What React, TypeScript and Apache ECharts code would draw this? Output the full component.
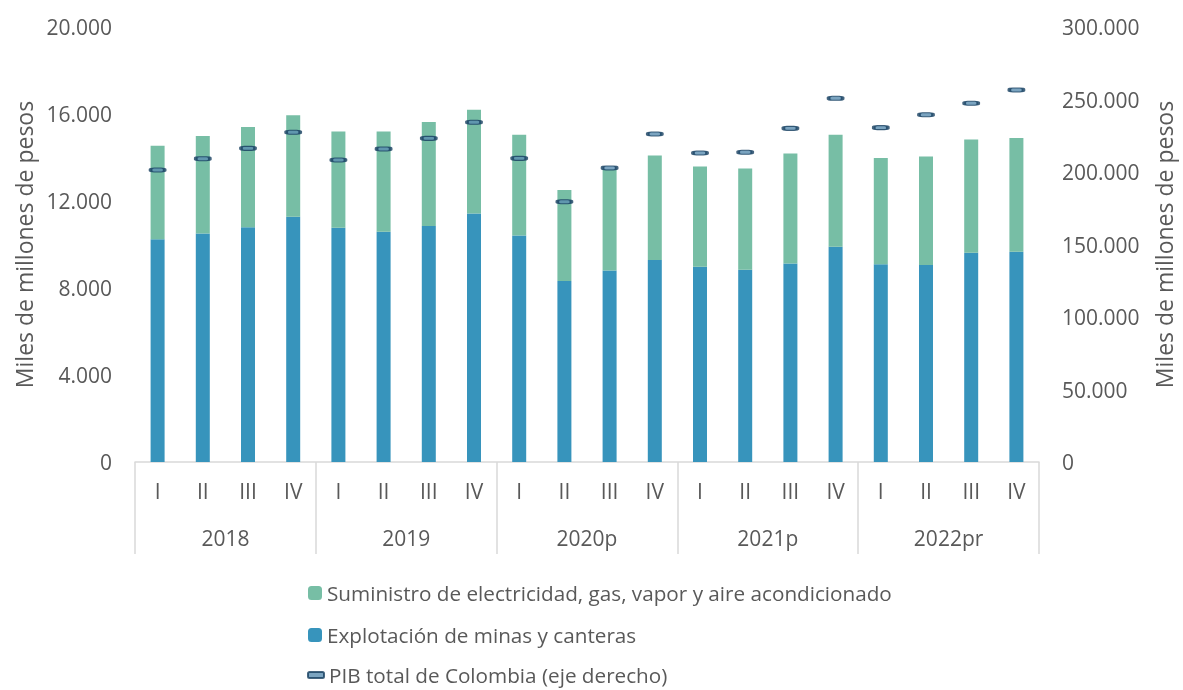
import React, { useEffect, useRef } from "react";
import * as echarts from "echarts";

const quarters = ["I","II","III","IV","I","II","III","IV","I","II","III","IV","I","II","III","IV","I","II","III","IV"];
const years = ["2018", "2019", "2020p", "2021p", "2022pr"];
const mineria = [10240, 10510, 10790, 11280, 10770, 10590, 10850, 11420, 10410, 8320, 8800, 9290, 8980, 8840, 9130, 9900, 9090, 9060, 9620, 9670];
const electricidad = [4300, 4480, 4610, 4660, 4430, 4600, 4780, 4780, 4640, 4190, 4660, 4800, 4610, 4660, 5050, 5150, 4890, 4990, 5210, 5230];
const pib = [201400, 209200, 216300, 227400, 208300, 215900, 223200, 234300, 209400, 179500, 202800, 226200, 213100, 213600, 230100, 250800, 230600, 239500, 247400, 256600];

const nameElec = "Suministro de electricidad, gas, vapor y aire acondicionado";
const nameMin = "Explotación de minas y canteras";
const namePib = "PIB total de Colombia (eje derecho)";

const fmt = (v: number) => String(v).replace(/\B(?=(\d{3})+(?!\d))/g, ".");
const FONT = "'Open Sans', sans-serif";
const GRAY = "#595959";
const LINE = "#d9d9d9";

export default function App() {
  const ref = useRef<HTMLDivElement>(null);
  useEffect(() => {
    if (!ref.current) return;
    const chart = echarts.init(ref.current, undefined, { renderer: "svg" });
    const legendText = { color: GRAY, fontSize: 20.7, fontFamily: FONT, lineHeight: 24 };
    const tickFont = { color: GRAY, fontSize: 21, fontFamily: FONT };
    chart.setOption({
      animation: false,
      textStyle: { fontFamily: FONT },
      grid: { left: 135, width: 909, top: 27, height: 435, containLabel: false },
      legend: [
        { data: [nameElec], orient: "vertical", left: 308, top: 581, padding: 0, itemGap: 0, itemWidth: 14, itemHeight: 14, textStyle: legendText, selectedMode: false },
        { data: [nameMin], orient: "vertical", left: 308, top: 623, padding: 0, itemGap: 0, itemWidth: 14, itemHeight: 14, textStyle: legendText, selectedMode: false },
        { data: [namePib], orient: "vertical", left: 307, top: 663, padding: 0, itemGap: 0, itemWidth: 16, itemHeight: 6, icon: "roundRect", textStyle: legendText, selectedMode: false },
      ],
      xAxis: [
        {
          type: "category",
          data: quarters,
          position: "bottom",
          axisLine: { show: true, lineStyle: { color: LINE, width: 1.5 } },
          axisTick: { show: false },
          axisLabel: { ...tickFont, margin: 18 },
        },
        {
          type: "category",
          data: years,
          position: "bottom",
          axisLine: { show: false },
          axisTick: { show: true, length: 92, lineStyle: { color: LINE, width: 1.5 } },
          axisLabel: { ...tickFont, margin: 65 },
        },
      ],
      yAxis: [
        {
          type: "value",
          min: 0,
          max: 20000,
          interval: 4000,
          name: "Miles de millones de pesos",
          nameLocation: "middle",
          nameGap: 100,
          nameTextStyle: { color: GRAY, fontSize: 23, fontFamily: FONT },
          splitLine: { show: false },
          axisLine: { show: false },
          axisTick: { show: false },
          axisLabel: { ...tickFont, margin: 23, formatter: (v: number) => fmt(v) },
        },
        {
          type: "value",
          min: 0,
          max: 300000,
          interval: 50000,
          position: "right",
          name: "Miles de millones de pesos",
          nameLocation: "middle",
          nameGap: 113,
          nameTextStyle: { color: GRAY, fontSize: 23, fontFamily: FONT },
          splitLine: { show: false },
          axisLine: { show: false },
          axisTick: { show: false },
          axisLabel: { ...tickFont, margin: 23, formatter: (v: number) => fmt(v) },
        },
      ],
      series: [
        {
          name: nameMin,
          type: "bar",
          stack: "total",
          barWidth: 14,
          data: mineria,
          itemStyle: { color: "#3794bc" },
        },
        {
          name: nameElec,
          type: "bar",
          stack: "total",
          barWidth: 14,
          data: electricidad,
          itemStyle: { color: "#77bea5" },
        },
        {
          name: namePib,
          type: "scatter",
          yAxisIndex: 1,
          symbol: "roundRect",
          symbolSize: [14, 4],
          data: pib,
          itemStyle: { color: "#5a8db0", borderColor: "#163f5f", borderWidth: 2 },
          z: 5,
        },
      ],
    });
    return () => chart.dispose();
  }, []);
  return <div ref={ref} style={{ position: "fixed", left: 0, top: 0, width: 1183, height: 690 }} />;
}
